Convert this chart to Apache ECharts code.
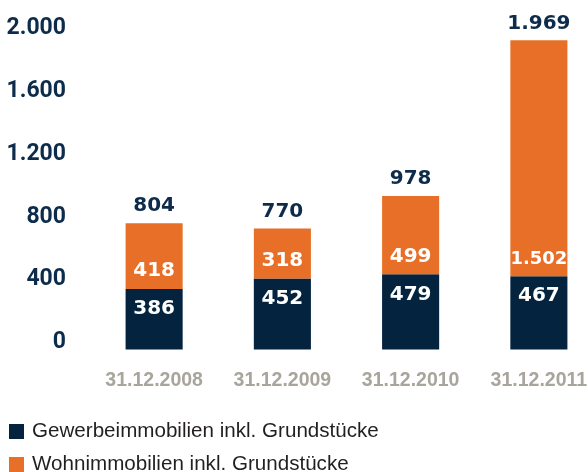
<!DOCTYPE html>
<html><head><meta charset="utf-8">
<script src="https://cdn.jsdelivr.net/npm/echarts@6/dist/echarts.min.js"></script>
<style>html,body{margin:0;padding:0;background:#fff}#c{width:588px;height:472px}</style>
</head><body><div id="c"></div>
<script>
const categories = ['31.12.2008', '31.12.2009', '31.12.2010', '31.12.2011'];
const gewerbe = [386, 452, 479, 467];
const wohn = [418, 318, 499, 1502];
const totals = [804, 770, 978, 1969];
const yTicks = [0, 400, 800, 1200, 1600, 2000];
const seriesNames = ['Gewerbeimmobilien inkl. Grundstücke', 'Wohnimmobilien inkl. Grundstücke'];

const NAVY = '#03233f', ORANGE = '#e86f27';
const fmt = v => String(v).replace(/\B(?=(\d{3})+(?!\d))/g, '.');
const valFont = {fontFamily: 'DejaVu Sans', fontWeight: 'bold', fontSize: 20};
const legendText = {fontFamily: 'Liberation Sans', fontSize: 20.6, color: '#231f20', padding: [0, 0, 0, 3]};

const chart = echarts.init(document.getElementById('c'));
chart.setOption({
  animation: false,
  grid: {left: 90, top: 35.5, height: 314, width: 513, outerBoundsMode: 'none', containLabel: false},
  legend: [
    {left: 4, top: 416, itemWidth: 15, itemHeight: 15, icon: 'rect', data: [seriesNames[0]], textStyle: legendText},
    {left: 4, top: 449, itemWidth: 15, itemHeight: 15, icon: 'rect', data: [seriesNames[1]], textStyle: legendText}
  ],
  xAxis: {
    type: 'category', data: categories,
    axisLine: {show: false}, axisTick: {show: false},
    axisLabel: {interval: 0, hideOverlap: false, margin: 21, color: '#a9a59d', fontFamily: 'Liberation Sans', fontWeight: 'bold', fontSize: 19.5}
  },
  yAxis: {
    type: 'value', min: yTicks[0], max: yTicks[yTicks.length - 1], interval: 400,
    splitLine: {show: false}, axisLine: {show: false}, axisTick: {show: false},
    axisLabel: {
      margin: 24, color: '#0d2b4a', fontFamily: 'Roboto', fontWeight: 'bold', fontSize: 23,
      verticalAlign: 'bottom', lineHeight: 14, formatter: v => fmt(v)
    }
  },
  series: [
    {name: seriesNames[0], type: 'bar', stack: 'a', data: gewerbe, barWidth: '44.5%',
     itemStyle: {color: NAVY},
     label: {show: true, position: 'insideTop', distance: 10, color: '#fff', ...valFont, formatter: p => fmt(p.value)}},
    {name: seriesNames[1], type: 'bar', stack: 'a', barWidth: '44.5%',
     data: wohn.map(v => v >= 1000 ? {value: v, label: {fontSize: 18}} : v),
     itemStyle: {color: ORANGE},
     label: {show: true, position: 'insideBottom', distance: 8, color: '#fff', ...valFont, formatter: p => fmt(p.value)}},
    {name: 'total', type: 'bar', stack: 'a', data: totals.map(() => 0), barWidth: '44.5%',
     itemStyle: {color: 'transparent'},
     label: {show: true, position: 'top', distance: 7, color: '#0d2b4a', ...valFont, formatter: p => fmt(totals[p.dataIndex])}}
  ]
});
</script></body></html>
